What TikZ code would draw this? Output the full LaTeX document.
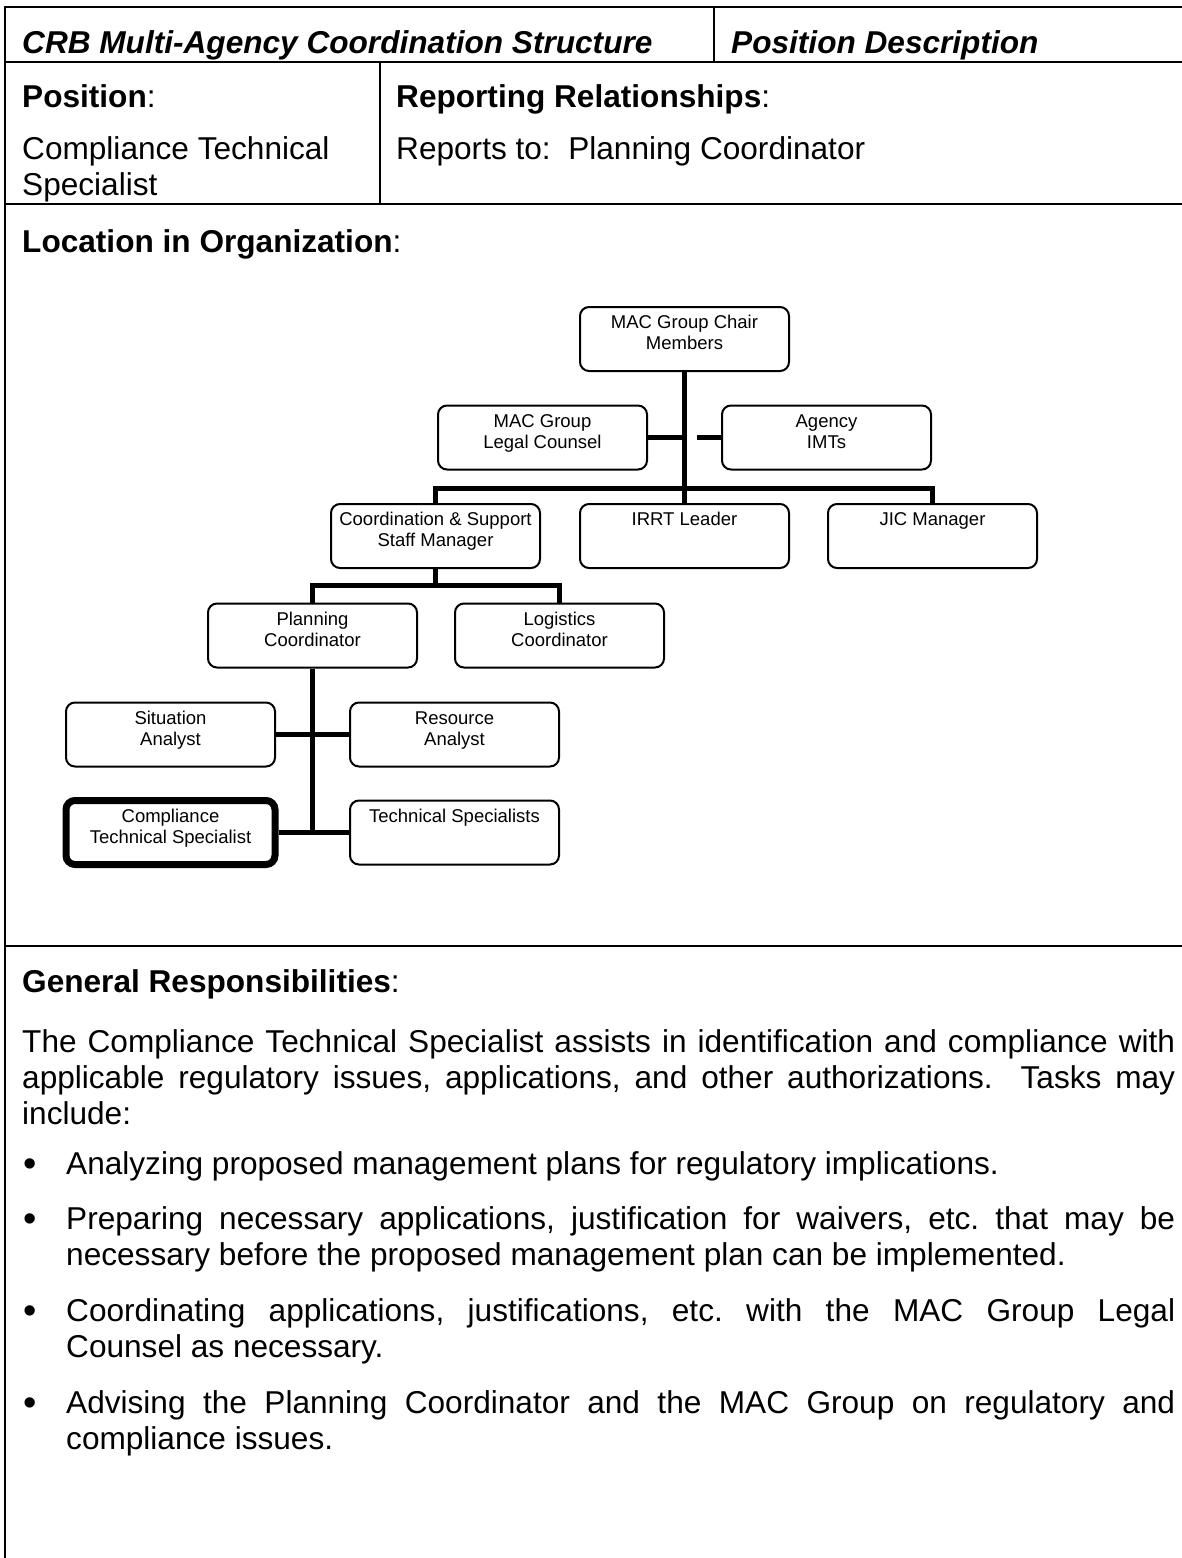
\documentclass[tikz,border=0pt]{standalone}
\usepackage{fontspec}
\setmainfont{Liberation Sans}
\newcommand{\boxlines}[1]{\parbox[t][50pt][t]{205pt}{\centering\strut #1}}
\newcommand{\bulletmark}{\leavevmode\llap{\raisebox{-2pt}{\fontsize{38}{38}\selectfont\textbullet}\hspace{29pt}}}
\tikzset{
  doc/.style={anchor=base west, inner sep=0pt, font=\fontsize{31.6}{36.4}\selectfont\frenchspacing},
  box/.style={draw, line width=2pt, rounded corners=9pt, inner xsep=2pt, inner ysep=7pt, fill=white, font=\fontsize{18.5}{21}\selectfont},
  hot/.style={box, line width=7pt},
  conn/.style={line width=5pt},
  tablerule/.style={line width=2.2pt}
}
\begin{document}
\begin{tikzpicture}[x=1pt,y=-1pt]
\useasboundingbox (0,0) rectangle (1182,1558);
% table frame
\draw[tablerule] (5,7) -- (1182,7);
\draw[tablerule] (5,62) -- (1182,62);
\draw[tablerule] (5,204) -- (1182,204);
\draw[tablerule] (5,946) -- (1182,946);
\draw[tablerule] (5,6) -- (5,1558);
\draw[tablerule] (714,7) -- (714,62);
\draw[tablerule] (380,62) -- (380,204);
% header texts
\node[doc] (title) at (22,53) {\bfseries\itshape CRB Multi-Agency Coordination Structure};
\node[doc] (pdesc) at (731,53) {\bfseries\itshape Position Description};
\node[doc] (poslab) at (22,107) {{\bfseries Position}:};
\node[doc] (replab) at (396,107) {{\bfseries Reporting Relationships}:};
\node[doc] (posname) at (22,159) {\parbox[t]{350pt}{Compliance Technical\\Specialist}};
\node[doc] (repto) at (396,159) {Reports to:\ \ Planning Coordinator};
\node[doc] (loclab) at (22,252) {{\bfseries Location in Organization}:};
% org chart
\node[box] (chair) at (684.5,339) {\boxlines{MAC Group Chair\\Members}};
\node[box] (legal) at (542.5,437.5) {\boxlines{MAC Group\\Legal Counsel}};
\node[box] (agency) at (826.5,437.5) {\boxlines{Agency\\IMTs}};
\node[box] (coord) at (435.5,536) {\boxlines{Coordination \& Support\\Staff Manager}};
\node[box] (irrt) at (684.5,536) {\boxlines{IRRT Leader}};
\node[box] (jic) at (932.5,536) {\boxlines{JIC Manager}};
\node[box] (planning) at (312.5,635.5) {\boxlines{Planning\\Coordinator}};
\node[box] (logistics) at (559.5,635.5) {\boxlines{Logistics\\Coordinator}};
\node[box] (situation) at (170.5,734.5) {\boxlines{Situation\\Analyst}};
\node[box] (resource) at (454.5,734.5) {\boxlines{Resource\\Analyst}};
\node[hot] (compliance) at (170.5,832.5) {\boxlines{Compliance\\Technical Specialist}};
\node[box] (tech) at (454.5,832.5) {\boxlines{Technical Specialists}};
\coordinate (bar1) at (684.5,488);
\coordinate (stub) at (697,437.5);
\coordinate (bar2) at (435.5,585);
\coordinate (pend) at (312.5,835);
\draw[conn] (chair.south) -- (irrt.north);
\draw[conn] (coord.north) |- (bar1) -| (jic.north);
\draw[conn] (legal.east) -- (legal.east -| chair.south);
\draw[conn] (agency.west) -- (stub);
\draw[conn] (coord.south) -- (bar2);
\draw[conn] (planning.north) |- (bar2) -| (logistics.north);
\draw[conn] (planning.south) -- (pend);
\draw[conn] (situation.east) -- (resource.west);
\draw[conn] (compliance.east) -- (tech.west);
% responsibilities
\node[doc] (grlab) at (22,992) {{\bfseries General Responsibilities}:};
\node[doc] (para) at (22,1052) {\parbox[t]{1153pt}{%
\makebox[1153pt][s]{The Compliance Technical Specialist assists in identification and compliance with}\\
\makebox[1153pt][s]{applicable regulatory issues, applications, and other authorizations.\ \ Tasks may}\\
include:}};
\node[doc] (b1) at (66,1174) {\parbox[t]{1109pt}{\bulletmark Analyzing proposed management plans for regulatory implications.}};
\node[doc] (b2) at (66,1229) {\parbox[t]{1109pt}{\bulletmark\makebox[1109pt][s]{Preparing necessary applications, justification for waivers, etc. that may be}\\
necessary before the proposed management plan can be implemented.}};
\node[doc] (b3) at (66,1321) {\parbox[t]{1109pt}{\bulletmark\makebox[1109pt][s]{Coordinating applications, justifications, etc. with the MAC Group Legal}\\
Counsel as necessary.}};
\node[doc] (b4) at (66,1413) {\parbox[t]{1109pt}{\bulletmark\makebox[1109pt][s]{Advising the Planning Coordinator and the MAC Group on regulatory and}\\
compliance issues.}};
\end{tikzpicture}
\end{document}
